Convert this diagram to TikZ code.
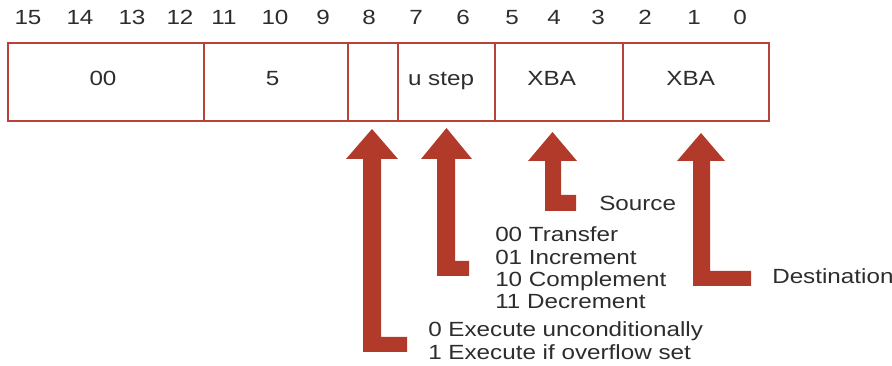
\documentclass[tikz,border=0pt]{standalone}
\usepackage{fontspec}
\setmainfont{Liberation Sans}[FakeStretch=1.18]
\usetikzlibrary{fit}
\definecolor{arrowred}{RGB}{178,58,42}
\definecolor{boxred}{RGB}{182,66,56}
\definecolor{inkgray}{RGB}{45,45,45}
\begin{document}
\begin{tikzpicture}[x=0.75pt,y=-0.75pt,
  every node/.style={text=inkgray, font=\fontsize{15.4pt}{18pt}\selectfont},
  field/.style={draw=boxred, line width=1.5pt, inner sep=0pt},
  bitno/.style={anchor=base, inner sep=0pt},
  fieldtext/.style={anchor=base, inner sep=0pt},
  note/.style={anchor=base west, inner sep=0pt},
  blockarrow/.style={fill=arrowred, draw=none}]
\useasboundingbox (0,0) rectangle (892,366);
% fields
\node[field, fit={(8,43) (204,121)}] (fa) {};
\node[field, fit={(204,43) (348,121)}] (fb) {};
\node[field, fit={(348,43) (398,121)}] (fc) {};
\node[field, fit={(398,43) (495,121)}] (fd) {};
\node[field, fit={(495,43) (623,121)}] (fe) {};
\node[field, fit={(623,43) (769,121)}] (ff) {};
% field texts
\node[fieldtext] (ta) at (103,86) {00};
\node[fieldtext] (tb) at (272.7,86) {5};
\node[fieldtext] (td) at (441,86) {u step};
\node[fieldtext] (te) at (551.7,86) {XBA};
\node[fieldtext] (tf) at (690.7,86) {XBA};
% bit numbers
\foreach \n/\x in {15/28,14/80,13/132,12/180,11/224,10/275,9/323,8/369,7/416,6/463,5/512,4/554,3/598,2/645,1/694,0/740}
  \node[bitno] (b\n) at (\x,25) {\n};
% block arrows
\fill[blockarrow] (372,129) -- (398,159) -- (381,159) -- (381,337) -- (407,337) -- (407,352) -- (363,352) -- (363,159) -- (346,159) -- cycle;
\fill[blockarrow] (446.5,128) -- (472,159) -- (455,159) -- (455,261) -- (469,261) -- (469,276) -- (437,276) -- (437,159) -- (421,159) -- cycle;
\fill[blockarrow] (552.5,132) -- (577,161) -- (561,161) -- (561,195) -- (576,195) -- (576,211) -- (545,211) -- (545,161) -- (528,161) -- cycle;
\fill[blockarrow] (701,133) -- (725,161) -- (710,161) -- (710,271) -- (751,271) -- (751,286) -- (693,286) -- (693,161) -- (677,161) -- cycle;
% notes
\node[note] (src) at (599,211) {Source};
\node[note] (m0) at (495,242) {00 Transfer};
\node[note] (m1) at (495,264.5) {01 Increment};
\node[note] (m2) at (495,287) {10 Complement};
\node[note] (m3) at (495,309) {11 Decrement};
\node[note] (e0) at (428,337) {0 Execute unconditionally};
\node[note] (e1) at (428,359) {1 Execute if overflow set};
\node[note] (dst) at (772,284) {Destination};
\end{tikzpicture}
\end{document}
